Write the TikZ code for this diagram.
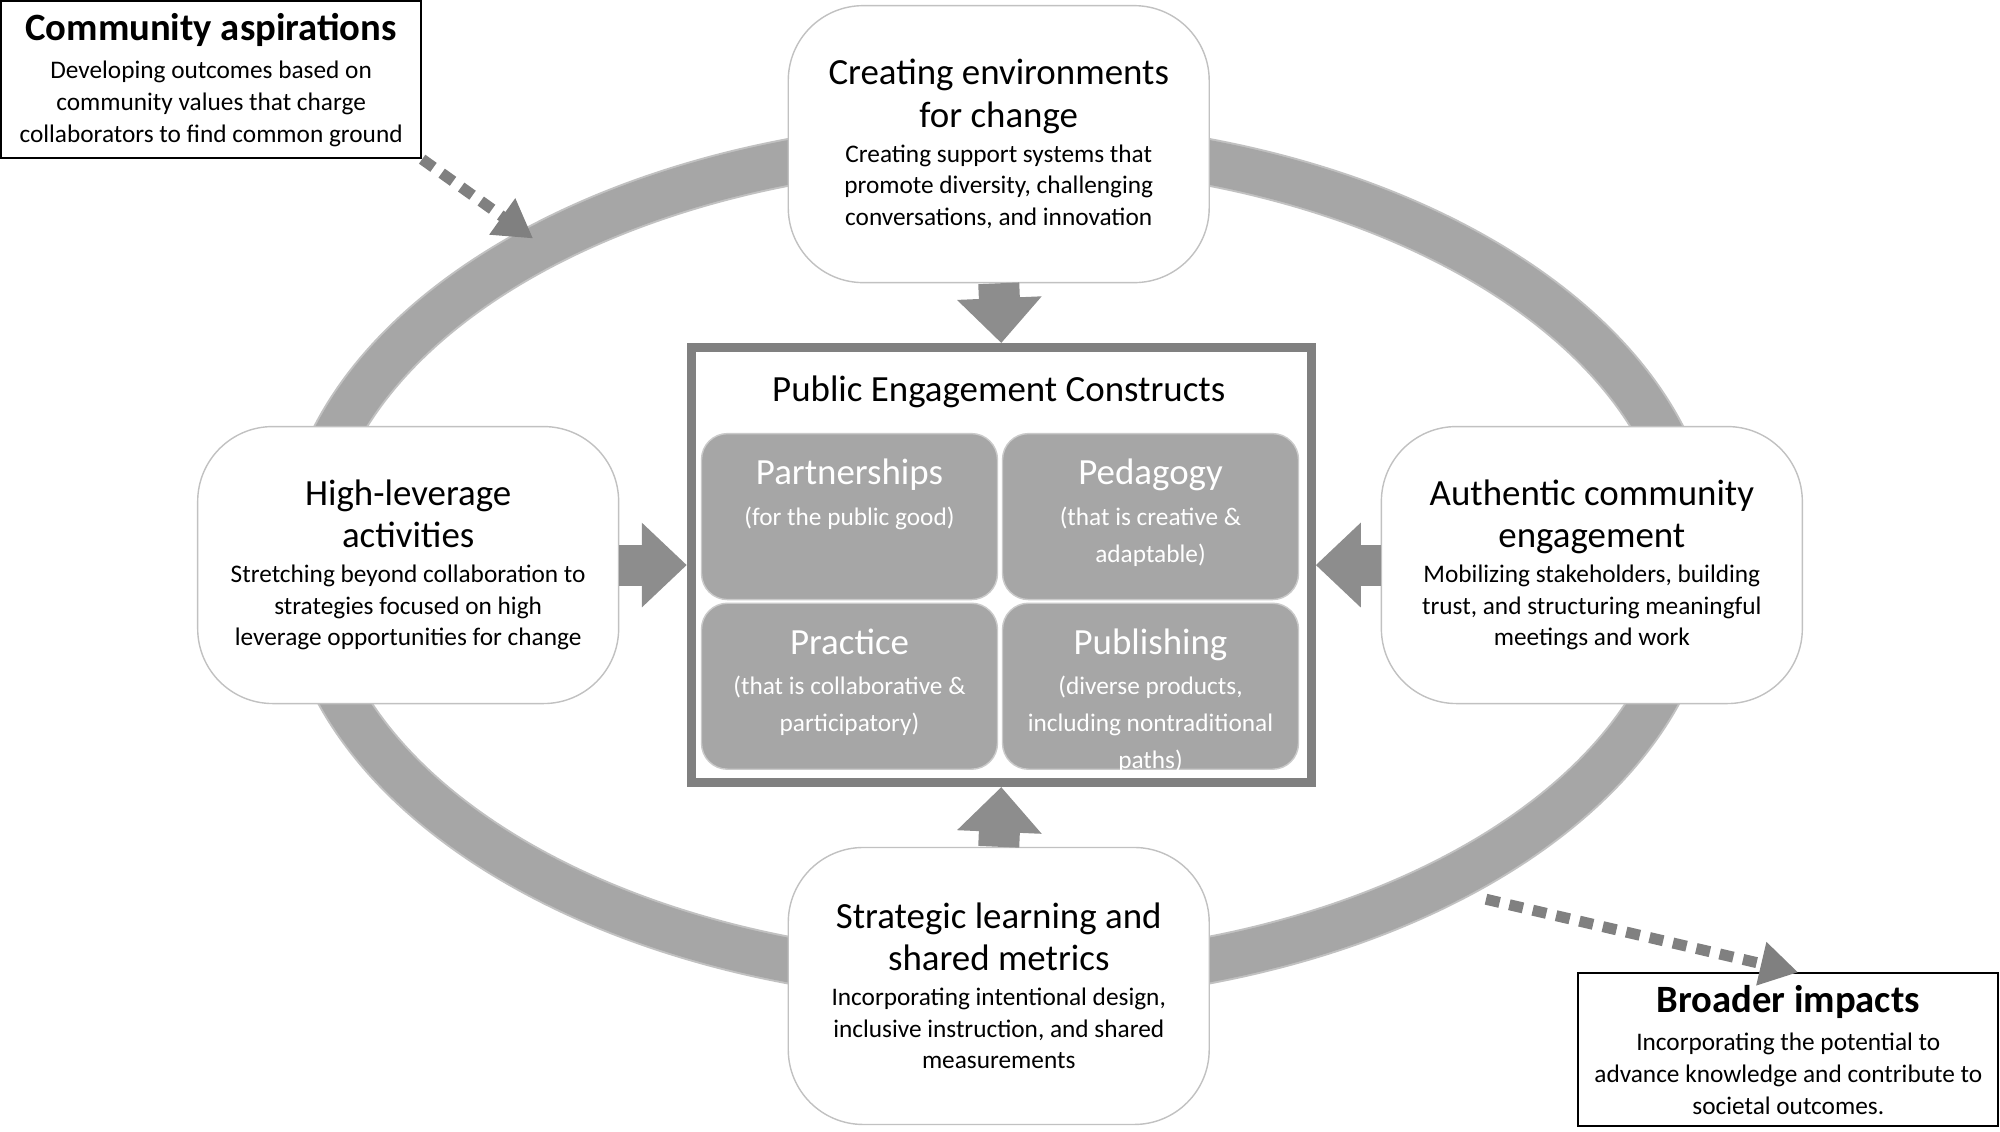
\documentclass[tikz,border=0pt]{standalone}
\usepackage{fontspec}
\setmainfont{Carlito}
\usetikzlibrary{arrows.meta}
\definecolor{ringgray}{HTML}{A6A6A6}
\definecolor{darkgray}{HTML}{808080}
\tikzset{
  stage/.style={draw=ringgray!70, fill=white, rounded corners=0.75cm, minimum width=4.21cm, minimum height=2.77cm, align=center, inner sep=2pt},
  cell/.style={draw=ringgray!60, fill=ringgray, rounded corners=0.26cm, minimum width=2.96cm, minimum height=1.66cm},
  celltext/.style={anchor=north, text=white, align=center, font=\fontsize{10.5}{12.5}\selectfont},
  infobox/.style={draw=black, line width=0.6pt, fill=white, align=center, minimum width=4.2cm, minimum height=1.51cm},
  blockarrow/.style={draw=darkgray!90, line width=0.41cm, -{Triangle[width=0.82cm,length=0.45cm]}, shorten >=0pt},
  dasharrow/.style={draw=darkgray, line width=0.11cm, dash pattern=on 0.14cm off 0.1cm, -{Triangle[width=0.42cm,length=0.38cm]}}
}
\newcommand{\ttl}[1]{{\fontsize{10.5}{13.5}\selectfont #1}}
\newcommand{\dsc}[1]{{\fontsize{7.2}{9}\selectfont #1}}
\begin{document}
\begin{tikzpicture}[x=0.01276cm, y=-0.01276cm]
\useasboundingbox (0,0) rectangle (1568,887);
% ring
\draw[ringgray!70, line width=0.48cm] (783,440) ellipse [x radius=545, y radius=328];
\draw[ringgray, line width=0.44cm] (783,440) ellipse [x radius=545, y radius=328];
% central frame
\node[draw=darkgray, line width=0.09cm, fill=white, minimum width=6.2cm, minimum height=4.35cm] (pec) at (785,443) {};
\node (pectitle) at (783,307) {\fontsize{10.5}{12.5}\selectfont Public Engagement Constructs};
\node[cell] (part) at (666,405) {};
\node[cell] (peda) at (902,405) {};
\node[cell] (prac) at (666,538) {};
\node[cell] (publ) at (902,538) {};
\node[celltext] at ([yshift=-0.14cm]part.north) {Partnerships\\[-1pt]\dsc{(for the public good)}};
\node[celltext] at ([yshift=-0.14cm]peda.north) {Pedagogy\\[-1pt]\dsc{(that is creative \&}\\[-2pt]\dsc{adaptable)}};
\node[celltext] at ([yshift=-0.14cm]prac.north) {Practice\\[-1pt]\dsc{(that is collaborative \&}\\[-2pt]\dsc{participatory)}};
\node[celltext] at ([yshift=-0.14cm]publ.north) {Publishing\\[-1pt]\dsc{(diverse products,}\\[-2pt]\dsc{including nontraditional}\\[-2pt]\dsc{paths)}};
% stages
\node[stage] (env) at (783,113) {\ttl{Creating environments}\\\ttl{for change}\\[-2pt]\dsc{Creating support systems that}\\[-3pt]\dsc{promote diversity, challenging}\\[-3pt]\dsc{conversations, and innovation}};
\node[stage] (hla) at (320,443) {\ttl{High-leverage}\\\ttl{activities}\\[-2pt]\dsc{Stretching beyond collaboration to}\\[-3pt]\dsc{strategies focused on high}\\[-3pt]\dsc{leverage opportunities for change}};
\node[stage] (ace) at (1248,443) {\ttl{Authentic community}\\\ttl{engagement}\\[-2pt]\dsc{Mobilizing stakeholders, building}\\[-3pt]\dsc{trust, and structuring meaningful}\\[-3pt]\dsc{meetings and work}};
\node[stage] (slm) at (783,773) {\ttl{Strategic learning and}\\\ttl{shared metrics}\\[-2pt]\dsc{Incorporating intentional design,}\\[-3pt]\dsc{inclusive instruction, and shared}\\[-3pt]\dsc{measurements}};
% block arrows
\draw[blockarrow] (env.south) -- (pec.north);
\draw[blockarrow] (hla.east) -- (pec.west);
\draw[blockarrow] (ace.west) -- (pec.east);
\draw[blockarrow] (slm.north) -- (pec.south);
% corner boxes
\node[infobox] (comm) at (165.5,62.5) {{\fontsize{11}{13}\selectfont\bfseries Community aspirations}\\[-1pt]\dsc{Developing outcomes based on}\\[-3pt]\dsc{community values that charge}\\[-3pt]\dsc{collaborators to find common ground}};
\node[infobox] (broad) at (1402,823) {{\fontsize{11}{13}\selectfont\bfseries Broader impacts}\\[-1pt]\dsc{Incorporating the potential to}\\[-3pt]\dsc{advance knowledge and contribute to}\\[-3pt]\dsc{societal outcomes.}};
\coordinate (ringnw) at (418,187);
\coordinate (ringse) at (1165,705);
\draw[dasharrow] (comm.south east) ++(0,0) -- (ringnw);
\draw[dasharrow] (ringse) -- ([xshift=0.1cm]broad.north);
\end{tikzpicture}
\end{document}
